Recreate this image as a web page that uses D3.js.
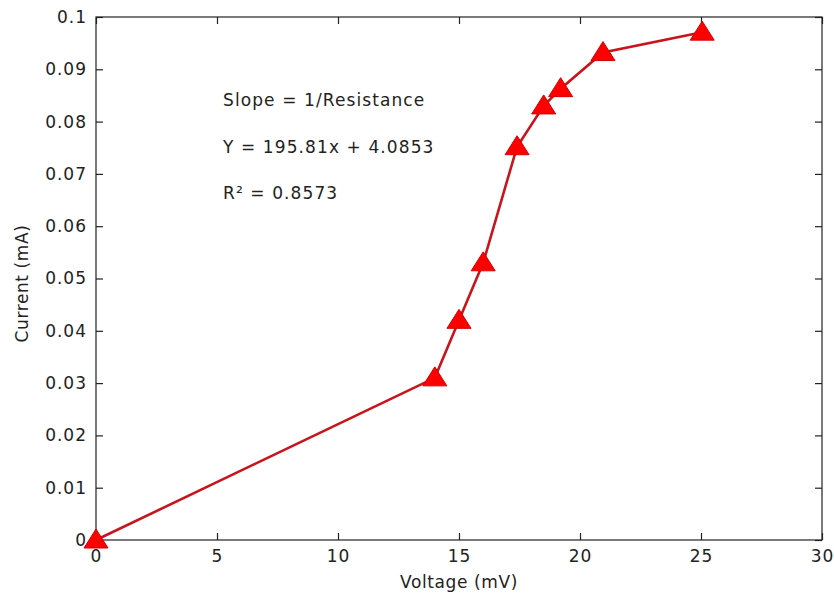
<!DOCTYPE html>
<html>
<head>
<meta charset="utf-8">
<script src="https://d3js.org/d3.v7.min.js"></script>
<style>
  body { margin: 0; background: #fff; }
  text { font-family: "DejaVu Sans", sans-serif; fill: #222; }
</style>
</head>
<body>
<div id="chart"></div>
<script>
// data
var voltage = [0, 14, 15, 16, 17.4, 18.5, 19.2, 20.95, 25.05];
var current = [0, 0.031, 0.042, 0.053, 0.0752, 0.083, 0.0863, 0.0932, 0.0971];
var xTicks = [0, 5, 10, 15, 20, 25, 30];
var yTicks = [0, 0.01, 0.02, 0.03, 0.04, 0.05, 0.06, 0.07, 0.08, 0.09, 0.1];
var notes = ["Slope = 1/Resistance", "Y = 195.81x + 4.0853", "R\u00b2 = 0.8573"];

var W = 834, H = 598;
var m = { left: 96, right: 12, top: 17, bottom: 58 };

var svg = d3.select("#chart").append("svg")
    .attr("width", W)
    .attr("height", H);

var x = d3.scaleLinear().domain([0, 30]).range([m.left, W - m.right]);
var y = d3.scaleLinear().domain([0, 0.1]).range([H - m.bottom, m.top]);

var tickLen = 7;

// box
svg.append("rect")
    .attr("x", x(0)).attr("y", y(0.1))
    .attr("width", x(30) - x(0)).attr("height", y(0) - y(0.1))
    .attr("fill", "none").attr("stroke", "#222").attr("stroke-width", 1.2);

// axes, ticks pointing inward
var xb = svg.append("g").attr("transform", "translate(0," + y(0) + ")")
    .call(d3.axisBottom(x).tickValues(xTicks).tickSize(-tickLen).tickPadding(10).tickFormat(d3.format("d")));
var xt = svg.append("g").attr("transform", "translate(0," + y(0.1) + ")")
    .call(d3.axisTop(x).tickValues(xTicks).tickSize(-tickLen).tickFormat(""));
var yl = svg.append("g").attr("transform", "translate(" + x(0) + ",0)")
    .call(d3.axisLeft(y).tickValues(yTicks).tickSize(-tickLen).tickPadding(9).tickFormat(function (d) { return d3.format("~g")(d); }));
var yr = svg.append("g").attr("transform", "translate(" + x(30) + ",0)")
    .call(d3.axisRight(y).tickValues(yTicks).tickSize(-tickLen).tickFormat(""));

[xb, xt, yl, yr].forEach(function (g) {
    g.select(".domain").remove();
    g.selectAll(".tick line").attr("stroke", "#222").attr("stroke-width", 1.2);
    g.selectAll(".tick text")
        .style("font-family", "DejaVu Sans, sans-serif")
        .style("font-size", "17px")
        .style("letter-spacing", "1px")
        .attr("fill", "#222");
});

// axis labels
svg.append("text")
    .attr("x", (x(0) + x(30)) / 2).attr("y", 588)
    .attr("text-anchor", "middle")
    .style("font-size", "17px").style("letter-spacing", "0.6px")
    .text("Voltage (mV)");
svg.append("text")
    .attr("transform", "translate(28," + (y(0.05) + 5) + ") rotate(-90)")
    .attr("text-anchor", "middle")
    .style("font-size", "17px").style("letter-spacing", "0.6px")
    .text("Current (mA)");

// annotation text
svg.selectAll(".note")
    .data(notes)
    .enter()
    .append("text")
    .attr("class", "note")
    .attr("x", 223)
    .attr("y", function (d, i) { return 106 + i * 46.5; })
    .style("font-size", "17px").style("letter-spacing", "1.1px")
    .text(function (d) { return d; });

var pts = voltage.map(function (v, i) { return [v, current[i]]; });

// line
svg.append("path")
    .datum(pts)
    .attr("fill", "none")
    .attr("stroke", "#c8141c")
    .attr("stroke-width", 2.6)
    .attr("d", d3.line().x(function (d) { return x(d[0]); }).y(function (d) { return y(d[1]); }));

// triangle markers
var tri = "M0,-11 L12,8 L-12,8 Z";
svg.selectAll(".marker")
    .data(pts)
    .enter()
    .append("path")
    .attr("class", "marker")
    .attr("d", tri)
    .attr("transform", function (d) { return "translate(" + x(d[0]) + "," + y(d[1]) + ")"; })
    .attr("fill", "#f00")
    .attr("stroke", "#d40000")
    .attr("stroke-width", 1);
</script>
</body>
</html>
